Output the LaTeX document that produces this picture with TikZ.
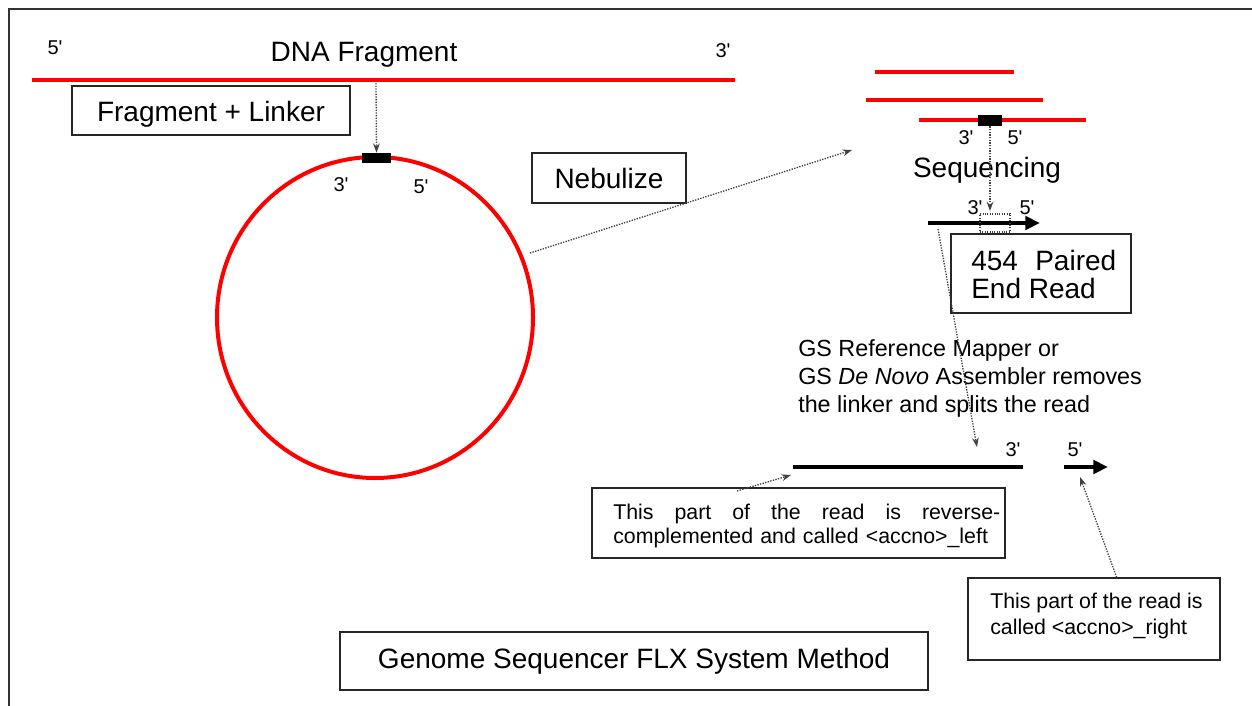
\documentclass[tikz,border=0pt]{standalone}
\usepackage{fontspec}
\setmainfont{Liberation Sans}
\usetikzlibrary{arrows.meta,shapes.geometric}
\newcommand{\pr}{\textquotesingle}
\begin{document}
\begin{tikzpicture}[x=0.75pt,y=-0.75pt,
  box/.style={draw=black!85,line width=1.1pt,inner sep=0pt},
  redline/.style={draw=red,line width=3pt},
  big/.style={font=\fontsize{21}{21}\selectfont},
  mid/.style={font=\fontsize{17.5}{21}\selectfont},
  small/.style={font=\fontsize{16}{18}\selectfont},
  prime/.style={font=\fontsize{15}{15}\selectfont,inner sep=0pt},
  dotarrow/.style={densely dotted,line width=1pt,draw=black!75,-{Stealth[length=7pt,width=5pt]}},
  fatarrow/.style={line width=3pt,-{Triangle[length=11pt,width=10pt]}},
  linker/.style={fill=black,draw=none,inner sep=0pt},
]
\useasboundingbox (0,0) rectangle (1252,706);
% frame
\draw[line width=1.5pt,black!80] (1252,9) -- (9,9) -- (9,706);

% DNA fragment
\coordinate (dnaL) at (32,80);
\coordinate (dnaR) at (735,80);
\draw[redline] (dnaL) -- (dnaR);
\node[prime] (p5a) at (55,48) {5\pr};
\node[big] (dna) at (364,55) {DNA Fragment};
\node[prime] (p3a) at (723,51) {3\pr};
\node[box,big,minimum width=208.5pt,minimum height=36.75pt,text height=16pt,text depth=0pt] (frag) at (211,110.5) {Fragment + Linker};

% circle
\node[draw=red,line width=3pt,ellipse,inner sep=0pt,minimum width=237pt,minimum height=240.75pt] (circ) at (375,317.5) {};
\node[linker,minimum width=21.75pt,minimum height=7.5pt] (link1) at (376.5,158) {};
\node[prime] (p3b) at (341,185) {3\pr};
\node[prime] (p5b) at (421,187) {5\pr};
\coordinate (fragdrop) at (376,83);
\draw[dotarrow] (fragdrop) -- (link1.north);

% nebulize
\node[box,big,minimum width=115.5pt,minimum height=37.5pt] (neb) at (609,178) {\raisebox{-2pt}{Nebulize}};
\coordinate (nebend) at (852,150);
\coordinate (nebstart) at (530,253);
\draw[dotarrow] (nebstart) -- (nebend);

% fragments
\coordinate (r1a) at (875,72);  \coordinate (r1b) at (1014,72);
\coordinate (r2a) at (866,100); \coordinate (r2b) at (1043,100);
\coordinate (r3a) at (919,120); \coordinate (r3b) at (1086,120);
\draw[redline] (r1a) -- (r1b);
\draw[redline] (r2a) -- (r2b);
\draw[redline] (r3a) -- (r3b);
\node[linker,minimum width=18pt,minimum height=8.25pt] (link2) at (990,120.5) {};
\node[prime] (p3c) at (966,138) {3\pr};
\node[prime] (p5c) at (1015,138) {5\pr};
\node[big] (seq) at (987,170) {Sequencing};

% paired end read
\node[prime] (p3d) at (975,208) {3\pr};
\node[prime] (p5d) at (1027,208) {5\pr};
\coordinate (readL) at (928,223);
\coordinate (readR) at (1040,223);
\draw[fatarrow] (readL) -- (readR);
\node[draw=black!75,densely dotted,line width=0.8pt,minimum width=22.5pt,minimum height=13.5pt,inner sep=0pt] (lbox) at (995,223) {};
\coordinate (seqdrop) at (990,211);
\draw[dotarrow] (link2.south) -- (seqdrop);
\node[box,minimum width=135pt,minimum height=59.25pt] (pe) at (1041,273.5) {};
\node[big,anchor=west,align=left,inner sep=0pt] (petxt) at (971,274) {454\hspace{13pt}Paired\\End Read};

% GS text
\node[mid,anchor=west,align=left,inner sep=0pt] (gs) at (798,378) {GS Reference Mapper or\\GS \textit{De Novo} Assembler removes\\the linker and splits the read};
\coordinate (splitA) at (938,229);
\coordinate (splitB) at (977,447);
\draw[dotarrow] (splitA) -- (splitB);

% split read
\coordinate (leftA) at (793,467);
\coordinate (leftB) at (1023,467);
\draw[line width=3pt] (leftA) -- (leftB);
\draw[line width=3.6pt] (862,467) -- (968,467);
\node[prime] (p3e) at (1013,450) {3\pr};
\node[prime] (p5e) at (1075,450) {5\pr};
\coordinate (rightA) at (1064,467);
\coordinate (rightB) at (1108,467);
\draw[fatarrow] (rightA) -- (rightB);

% left box
\node[box,minimum width=309.75pt,minimum height=52.5pt] (lbx) at (798.5,523) {};
\node[small,anchor=west,text width=290.25pt,align=left,inner sep=0pt] (ltxt) at (613,526) {\hbox to 290.25pt{This\hfill part\hfill of\hfill the\hfill read\hfill is\hfill reverse-}\\complemented and called <accno>\_left};
\coordinate (lfrom) at (737,491);
\coordinate (lto) at (791,475);
\draw[dotarrow] (lfrom) -- (lto);

% right box
\node[box,minimum width=189pt,minimum height=61.5pt] (rbx) at (1094,619) {};
\node[font=\fontsize{16}{19.5}\selectfont,anchor=west,align=left,inner sep=0pt] (rtxt) at (990,616) {This part of the read is\\called <accno>\_right};
\coordinate (rto) at (1080,477);
\path (rbx.north) ++(17pt,0) coordinate (rfrom);
\draw[dotarrow] (rfrom) -- (rto);

% title box
\node[box,big,minimum width=441pt,minimum height=43.5pt] (title) at (634,661) {\raisebox{-2pt}{Genome Sequencer FLX System Method}};
\end{tikzpicture}
\end{document}
